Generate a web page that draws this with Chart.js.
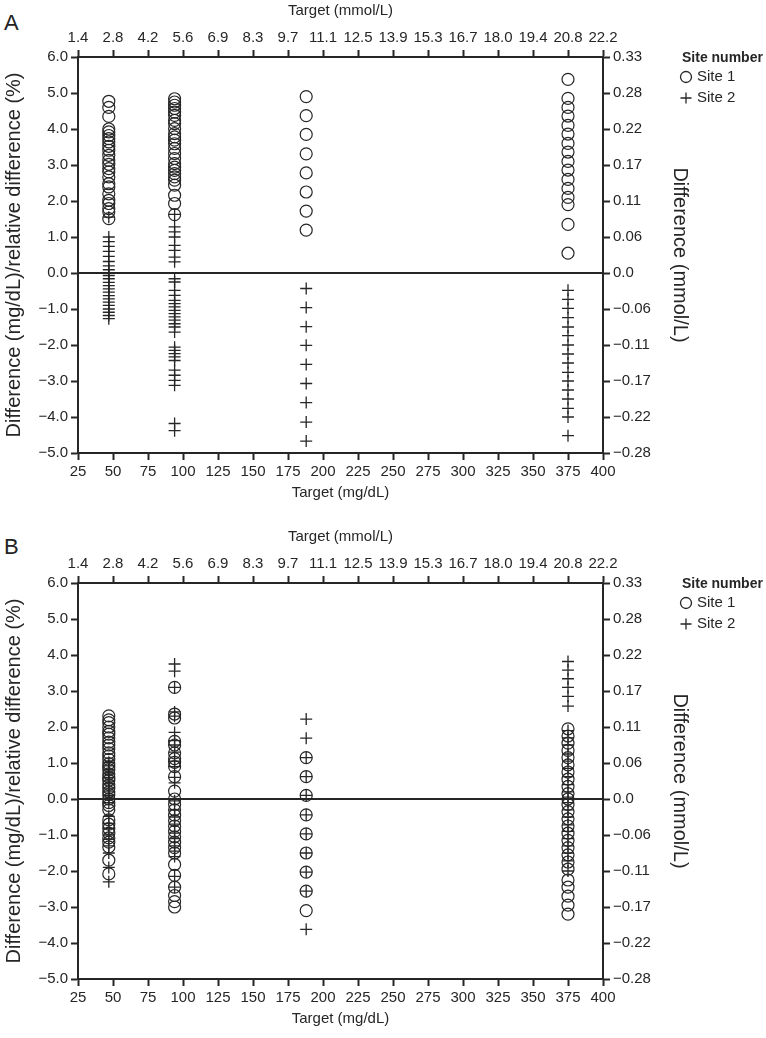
<!DOCTYPE html>
<html>
<head>
<meta charset="utf-8">
<script src="https://cdn.jsdelivr.net/npm/chart.js@4/dist/chart.umd.min.js"></script>
<style>
  body { margin: 0; background: #fff; }
  #wrap { position: relative; width: 766px; height: 1038px; }
  canvas { position: absolute; left: 0; }
  .panel-label { position: absolute; left: 4px; font: 22px 'Liberation Sans', Arial, sans-serif; line-height: 22px; color: #222; }
</style>
</head>
<body>
<div id="wrap">
  <div class="panel-label" style="top:12px">A</div>
  <canvas id="chartA" width="766" height="512" style="top:0"></canvas>
  <div class="panel-label" style="top:536px">B</div>
  <canvas id="chartB" width="766" height="512" style="top:526px"></canvas>
</div>
<script>
// target columns (mg/dL)
const targetsMgdl = [47, 94, 188, 375];

// tick labels
const mmolTargetLabels = ['1.4', '2.8', '4.2', '5.6', '6.9', '8.3', '9.7', '11.1', '12.5', '13.9', '15.3', '16.7', '18.0', '19.4', '20.8', '22.2'];
const mmolDiffLabels = ['\u22120.28', '\u22120.22', '\u22120.17', '\u22120.11', '\u22120.06', '0.0', '0.06', '0.11', '0.17', '0.22', '0.28', '0.33'];

const siteLabels = ['Site 1', 'Site 2'];

// panel A, one list per target column
const aSite1 = [
    [4.77, 4.6, 4.35, 4.0, 3.92, 3.82, 3.73, 3.64, 3.52, 3.41, 3.27, 3.13, 3.02, 2.9, 2.81, 2.67, 2.48, 2.39, 2.2, 2.02, 1.93, 1.79, 1.7, 1.51],
    [4.84, 4.75, 4.66, 4.57, 4.47, 4.38, 4.24, 4.15, 4.01, 3.87, 3.78, 3.69, 3.59, 3.46, 3.32, 3.18, 3.04, 2.94, 2.85, 2.76, 2.67, 2.58, 2.44, 2.16, 1.93, 1.62],
    [4.9, 4.37, 3.85, 3.31, 2.78, 2.25, 1.72, 1.19],
    [5.38, 4.85, 4.6, 4.36, 4.1, 3.86, 3.6, 3.36, 3.1, 2.86, 2.6, 2.35, 2.1, 1.9, 1.35, 0.55]
];
const aSite2 = [
    [1.55, 1.0, 0.87, 0.74, 0.6, 0.46, 0.32, 0.2, 0.09, 0.0, -0.07, -0.16, -0.26, -0.35, -0.44, -0.53, -0.63, -0.72, -0.81, -0.9, -1.0, -1.09, -1.18, -1.27],
    [1.63, 1.28, 1.14, 1.0, 0.77, 0.63, 0.44, 0.31, -0.16, -0.25, -0.48, -0.62, -0.76, -0.85, -0.94, -1.04, -1.13, -1.22, -1.31, -1.41, -1.5, -1.64, -2.06, -2.15, -2.24, -2.33, -2.43, -2.7, -2.84, -2.98, -3.12, -4.18, -4.38],
    [-0.43, -0.96, -1.49, -2.01, -2.54, -3.07, -3.6, -4.14, -4.67],
    [-0.48, -0.73, -0.98, -1.24, -1.5, -1.74, -2.0, -2.25, -2.5, -2.76, -3.0, -3.25, -3.5, -3.76, -4.0, -4.52]
];

// panel B
const bSite1 = [
    [2.31, 2.2, 2.12, 2.0, 1.88, 1.8, 1.7, 1.58, 1.5, 1.4, 1.28, 1.2, 1.1, 0.98, 0.9, 0.82, 0.7, 0.6, 0.52, 0.4, 0.3, 0.2, 0.12, 0.0, -0.1, -0.18, -0.3, -0.58, -0.7, -0.82, -0.95, -1.08, -1.2, -1.33, -1.7, -2.08],
    [3.1, 2.36, 2.25, 1.6, 1.5, 1.28, 1.12, 1.02, 0.9, 0.62, 0.22, 0.0, -0.15, -0.3, -0.45, -0.6, -0.75, -0.9, -1.05, -1.2, -1.35, -1.5, -1.82, -2.12, -2.45, -2.68, -2.85, -3.0],
    [1.15, 0.62, 0.1, -0.44, -0.97, -1.5, -2.03, -2.56, -3.1],
    [1.95, 1.75, 1.55, 1.35, 1.15, 0.95, 0.75, 0.55, 0.35, 0.15, 0.0, -0.15, -0.35, -0.55, -0.75, -0.95, -1.15, -1.35, -1.55, -1.75, -1.95, -2.25, -2.45, -2.7, -2.95, -3.2]
];
const bSite2 = [
    [1.02, 0.92, 0.8, 0.72, 0.6, 0.5, 0.42, 0.3, 0.2, 0.1, 0.02, -0.1, -0.48, -0.68, -0.82, -1.0, -1.12, -1.3, -1.5, -1.9, -2.3],
    [3.75, 3.55, 3.1, 2.42, 2.3, 1.85, 1.62, 1.5, 1.3, 1.05, 0.9, 0.6, 0.45, -0.05, -0.3, -0.5, -0.7, -0.95, -1.1, -1.3, -1.45, -1.6, -2.15, -2.45],
    [2.22, 1.69, 1.15, 0.62, 0.1, -0.44, -0.97, -1.5, -2.03, -2.56, -3.62],
    [3.82, 3.58, 3.34, 3.1, 2.85, 2.58, 1.9, 1.7, 1.5, 1.25, 1.05, 0.85, 0.62, 0.4, 0.2, 0.05, -0.1, -0.3, -0.5, -0.72, -0.9, -1.1, -1.3, -1.5, -1.72, -2.0]
];

const ink = '#262626';
const fontFamily = "'Liberation Sans', Arial, sans-serif";
const tickFont = { family: fontFamily, size: 15 };
const yTitleFont = { family: fontFamily, size: 20 };

const toPoints = (cols) => {
    const pts = [];
    cols.forEach((vals, i) => {
        vals.forEach(v => pts.push({ x: targetsMgdl[i], y: v }));
    });
    return pts;
}

const minus = (v) => (v < 0 ? '\u2212' : '') + Math.abs(v).toFixed(1);

// horizontal line at zero difference
const zeroLine = {
    id: 'zeroLine',
    beforeDatasetsDraw(chart) {
        const { ctx, chartArea, scales } = chart;
        const y = scales.y.getPixelForValue(0);
        ctx.save();
        ctx.strokeStyle = ink;
        ctx.lineWidth = 2;
        ctx.beginPath();
        ctx.moveTo(chartArea.left, y);
        ctx.lineTo(chartArea.right, y);
        ctx.stroke();
        ctx.restore();
    }
}

// legend on the right
const siteLegend = {
    id: 'siteLegend',
    afterDraw(chart) {
        const ctx = chart.ctx;
        const x0 = chart.chartArea.right + 78;
        const y0 = chart.chartArea.top + 1;
        ctx.save();
        ctx.fillStyle = ink;
        ctx.strokeStyle = ink;
        ctx.textBaseline = 'middle';
        ctx.font = "bold 14px " + fontFamily;
        ctx.fillText('Site number', x0 + 1, y0);
        ctx.font = "15px " + fontFamily;
        // Site 1 circle
        ctx.lineWidth = 1.3;
        ctx.beginPath();
        ctx.arc(x0 + 5, y0 + 19, 5.5, 0, Math.PI * 2);
        ctx.stroke();
        ctx.fillText(siteLabels[0], x0 + 16, y0 + 19);
        // Site 2 plus
        ctx.beginPath();
        ctx.moveTo(x0 - 0.5, y0 + 40);
        ctx.lineTo(x0 + 10.5, y0 + 40);
        ctx.moveTo(x0 + 5, y0 + 34.5);
        ctx.lineTo(x0 + 5, y0 + 45.5);
        ctx.stroke();
        ctx.fillText(siteLabels[1], x0 + 16, y0 + 40);
        ctx.restore();
    }
}

const axisGrid = {
    drawOnChartArea: false,
    drawTicks: true,
    tickLength: 7,
    tickWidth: 2,
    tickColor: ink
}
const axisBorder = { display: true, color: ink, width: 2 };

const makeConfig = (site1, site2) => ({
    type: 'scatter',
    data: {
        datasets: [{
            label: siteLabels[0],
            data: toPoints(site1),
            pointStyle: 'circle',
            pointRadius: 6,
            borderWidth: 1.2,
            borderColor: ink,
            backgroundColor: 'rgba(0,0,0,0)'
        }, {
            label: siteLabels[1],
            data: toPoints(site2),
            pointStyle: 'cross',
            pointRadius: 6,
            borderWidth: 1.3,
            borderColor: ink,
            backgroundColor: ink
        }]
    },
    options: {
        responsive: false,
        animation: false,
        events: [],
        layout: { padding: { left: 0, right: 73, top: 0, bottom: 0 } },
        plugins: {
            legend: { display: false },
            tooltip: { enabled: false }
        },
        scales: {
            x: {
                type: 'linear',
                position: 'bottom',
                min: 25,
                max: 400,
                grid: axisGrid,
                border: axisBorder,
                ticks: { stepSize: 25, autoSkip: false, maxRotation: 0, padding: 3, color: ink, font: tickFont },
                title: { display: true, text: 'Target (mg/dL)', color: ink, font: tickFont, padding: { top: 0, bottom: 10 } },
                afterFit: (s) => { s.height = 59; }
            },
            x2: {
                type: 'linear',
                position: 'top',
                min: 25,
                max: 400,
                grid: axisGrid,
                border: axisBorder,
                ticks: {
                    stepSize: 25, autoSkip: false, maxRotation: 0, padding: 3, color: ink, font: tickFont,
                    callback: (v, i) => mmolTargetLabels[i]
                },
                title: { display: true, text: 'Target (mmol/L)', color: ink, font: tickFont, padding: { top: 2, bottom: 0 } },
                afterFit: (s) => { s.height = 57; }
            },
            y: {
                type: 'linear',
                position: 'left',
                min: -5,
                max: 6,
                grid: axisGrid,
                border: axisBorder,
                ticks: { stepSize: 1, padding: 3, color: ink, font: tickFont, callback: (v) => minus(v) },
                title: { display: true, text: 'Difference (mg/dL)/relative difference (%)', color: ink, font: yTitleFont, padding: { top: 2, bottom: 0 } },
                afterFit: (s) => { s.width = 78; }
            },
            y2: {
                type: 'linear',
                position: 'right',
                min: -5,
                max: 6,
                grid: axisGrid,
                border: axisBorder,
                ticks: { stepSize: 1, padding: 3, color: ink, font: tickFont, callback: (v, i) => mmolDiffLabels[i] },
                title: { display: true, text: 'Difference (mmol/L)', color: ink, font: yTitleFont, padding: { top: 1, bottom: 0 } },
                afterFit: (s) => { s.width = 90; }
            }
        }
    },
    plugins: [zeroLine, siteLegend]
});

// render both panels
const chartA = new Chart(document.getElementById('chartA'), makeConfig(aSite1, aSite2));
const chartB = new Chart(document.getElementById('chartB'), makeConfig(bSite1, bSite2));
</script>
</body>
</html>
